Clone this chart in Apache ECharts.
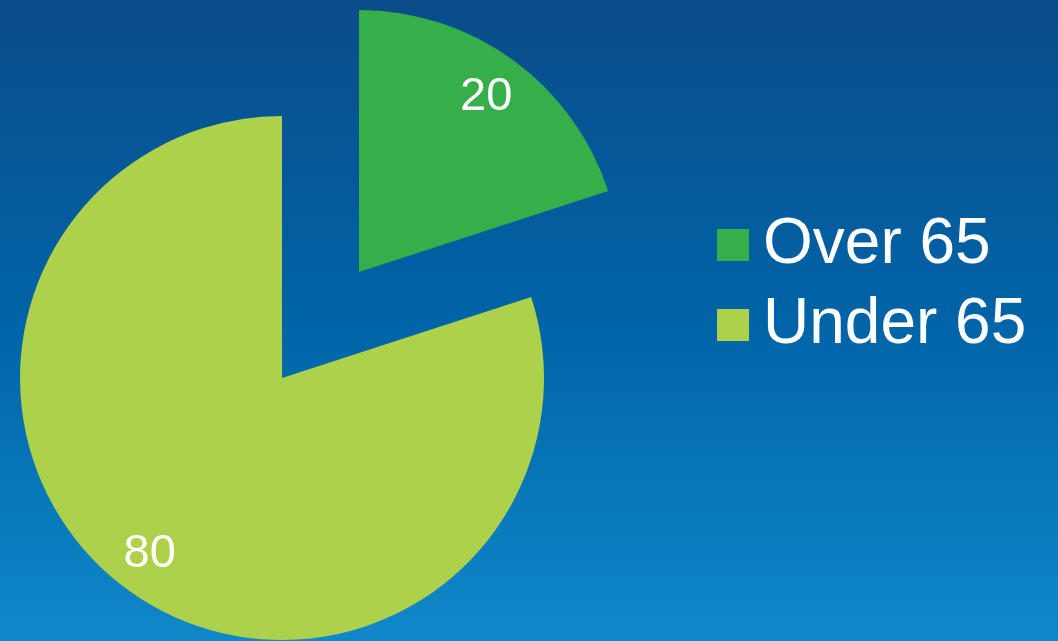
<!DOCTYPE html>
<html>
<head>
<meta charset="utf-8">
<script src="https://cdn.jsdelivr.net/npm/echarts@6/dist/echarts.min.js"></script>
<style>
html,body{margin:0;padding:0;width:1058px;height:641px;overflow:hidden;}
#c{width:1058px;height:641px;}
</style>
</head>
<body>
<div id="c"></div>
<script>
var categories = ['Over 65', 'Under 65'];
var values = [20, 80];
var colors = ['#36AE4A', '#ADD14B'];
var exploded = [true, false];

var chart = echarts.init(document.getElementById('c'), null, {renderer: 'canvas'});
function buildData(withLabels) {
  return categories.map(function (name, i) {
    return {
      name: name,
      value: values[i],
      selected: exploded[i],
      itemStyle: withLabels ? {color: 'rgba(0,0,0,0)'} : {color: colors[i]}
    };
  });
}
var option = {
  animation: false,
  backgroundColor: {
    type: 'linear', x: 0, y: 0, x2: 0, y2: 1,
    colorStops: [
      {offset: 0, color: '#0B4C8A'},
      {offset: 0.5, color: '#0064A7'},
      {offset: 1, color: '#0F88CA'}
    ]
  },
  legend: {
    orient: 'vertical',
    left: 717,
    top: 213,
    padding: 0,
    icon: 'rect',
    itemWidth: 32,
    itemHeight: 32,
    itemGap: 16,
    selectedMode: false,
    data: categories,
    textStyle: {
      color: '#FFFFFF',
      fontSize: 64,
      fontFamily: 'Liberation Sans, Arial, sans-serif',
      padding: [0, 0, 0, 9]
    }
  },
  series: [
    {
      type: 'pie',
      center: [282, 378],
      radius: [0, 262],
      startAngle: 90,
      clockwise: true,
      selectedMode: 'single',
      selectedOffset: 131,
      avoidLabelOverlap: false,
      label: {show: false},
      labelLine: {show: false},
      emphasis: {disabled: true},
      silent: true,
      itemStyle: {borderWidth: 0},
      data: buildData(false)
    },
    {
      type: 'pie',
      center: [282, 378],
      radius: [165, 262],
      startAngle: 90,
      clockwise: true,
      selectedMode: 'single',
      selectedOffset: 131,
      avoidLabelOverlap: false,
      legendHoverLink: false,
      label: {
        show: true,
        position: 'inside',
        formatter: '{c}',
        color: '#FFFFFF',
        fontSize: 47,
        offset: [-5, 1],
        fontFamily: 'Liberation Sans, Arial, sans-serif'
      },
      labelLine: {show: false},
      emphasis: {disabled: true},
      silent: true,
      itemStyle: {borderWidth: 0},
      data: buildData(true)
    }
  ]
};
chart.setOption(option);
</script>
</body>
</html>
